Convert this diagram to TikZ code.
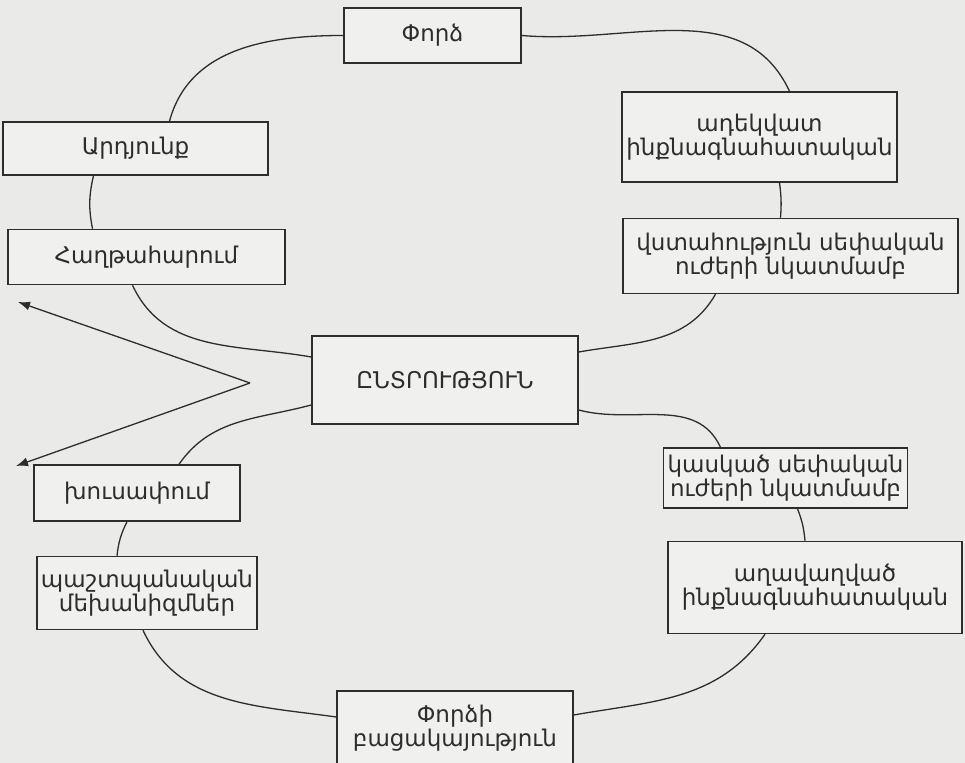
\documentclass[tikz,border=0pt]{standalone}
\usepackage{fontspec}
\setmainfont{DejaVu Sans}
\usetikzlibrary{positioning, arrows.meta}
\definecolor{paper}{RGB}{234, 234, 232}
\definecolor{ink}{RGB}{45, 45, 45}
\tikzset{
    box/.style={rectangle, draw=ink, line width=0.75pt, fill=paper!70!white, text=ink, align=center, inner sep=2pt, font=\fontsize{11.5}{12}\selectfont},
    link/.style={draw=ink, line width=0.65pt},
}
\begin{document}
\begin{tikzpicture}[x=0.5pt, y=-0.5pt]
\fill[paper] (0,0) rectangle (965,763);
\useasboundingbox (0,0) rectangle (965,763);
\node[box, minimum width=88.5pt, minimum height=27.5pt] (f1) at (432.5,35.5) {Փորձ};
\node[box, minimum width=132.5pt, minimum height=26.5pt] (r1) at (135.5,148.5) {Արդյունք};
\node[box, minimum width=138.5pt, minimum height=27.5pt, below=26.5pt of r1, xshift=5.5pt] (r2) {Հաղթահարում};
\node[box, minimum width=133pt, minimum height=44pt] (ch) at (445,380) {ԸՆՏՐՈՒԹՅՈՒՆ};
\node[box, minimum width=103pt, minimum height=28pt] (a1) at (137,493) {խուսափում};
\node[box, minimum width=110pt, minimum height=36.5pt, below=17pt of a1, xshift=5pt] (a2) {պաշտպանական\\մեխանիզմներ};
\node[box, minimum width=118pt, minimum height=37pt] (a3) at (455,728) {Փորձի\\բացակայություն};
\node[box, minimum width=137.5pt, minimum height=45pt] (s1) at (759.5,137) {ադեկվատ\\ինքնագնահատական};
\node[box, minimum width=167.5pt, minimum height=37.5pt, below=17.5pt of s1, xshift=15.5pt] (s2) {վստահություն սեփական\\ուժերի նկատմամբ};
\node[box, minimum width=117.5pt, minimum height=30pt] (d1) at (785.5,478) {կասկած սեփական\\ուժերի նկատմամբ};
\node[box, minimum width=147pt, minimum height=46pt, below=16pt of d1, xshift=14.75pt] (d2) {աղավաղված\\ինքնագնահատական};
\draw[link] (f1.west) to[out=180, in=75] ([xshift=17pt]r1.north);
\draw[link] (f1.east) to[out=-5, in=115] ([xshift=15pt]s1.north);
\draw[link] ([xshift=10pt]s1.south) to[bend left=6] ([xshift=-5pt]s2.north);
\draw[link] ([xshift=-37.5pt]s2.south) to[out=240, in=10] ([yshift=14pt]ch.east);
\draw[link] ([xshift=-21pt]r1.south) to[bend right=12] ([xshift=-27pt]r2.north);
\draw[link] ([xshift=-7pt]r2.south) to[out=-65, in=170] ([yshift=11.5pt]ch.west);
\draw[link] ([yshift=-12.5pt]ch.west) to[out=195, in=55] ([xshift=21pt]a1.north);
\draw[link] ([xshift=-5pt]a1.south) to[bend right=10] ([xshift=-15pt]a2.north);
\draw[link] ([xshift=-2pt]a2.south) to[out=-65, in=172] ([yshift=5.5pt]a3.west);
\draw[link] ([yshift=6.5pt]a3.east) to[out=10, in=235] ([xshift=-25pt]d2.south);
\draw[link] ([xshift=-5pt]d2.north) to[bend right=8] ([xshift=6pt]d1.south);
\draw[link] ([xshift=-32.5pt]d1.north) to[out=115, in=-15] ([yshift=-15pt]ch.east);
\coordinate (ap) at (250,383);
\coordinate (t1) at (18,302);
\coordinate (t2) at (16,466);
\draw[link, -{Latex[length=6pt, width=4.5pt]}] (ap) -- (t1);
\draw[link, -{Latex[length=6pt, width=4.5pt]}] (ap) -- (t2);
\end{tikzpicture}
\end{document}
